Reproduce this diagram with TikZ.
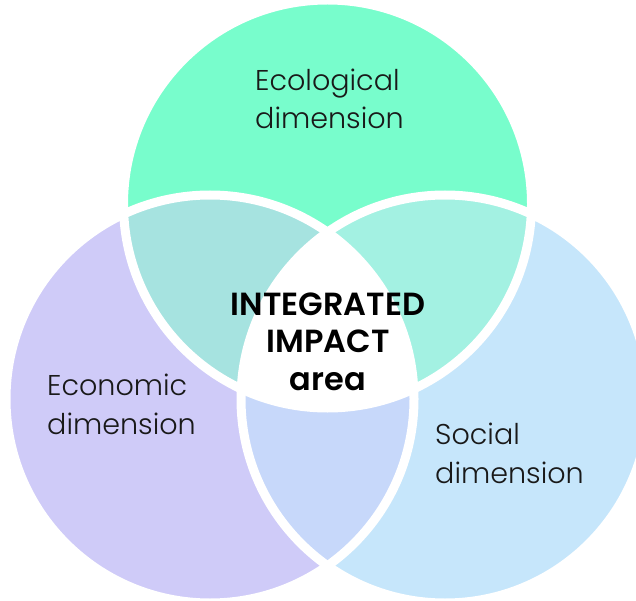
\documentclass[tikz,border=0pt]{standalone}
\usepackage{fontspec}
\setmainfont{Poppins}
\newfontfamily\lightf{Poppins Light}
\newfontfamily\semif{Poppins SemiBold}
\definecolor{ecoTop}{RGB}{120,253,204}
\definecolor{econLeft}{RGB}{207,203,248}
\definecolor{socRight}{RGB}{198,230,251}
\definecolor{topLeft}{RGB}{166,227,224}
\definecolor{topRight}{RGB}{163,241,226}
\definecolor{leftRight}{RGB}{199,216,250}
\tikzset{
  lbl/.style={inner sep=0pt, align=left, text=black!90,
    font=\lightf\fontsize{28.6}{38.5}\selectfont},
  ctr/.style={inner sep=0pt, align=center, text=black,
    font=\semif\fontsize{32}{37.5}\selectfont},
  ring/.style={draw=white, line width=9pt}
}
\begin{document}
\begin{tikzpicture}[x=1pt,y=-1pt]
\useasboundingbox (0,0) rectangle (636,601);
\clip (0,0) rectangle (636,601);
\fill[white] (0,0) rectangle (636,601);
\def\R{204}
\coordinate (T) at (327.5,204);
\coordinate (L) at (210,399);
\coordinate (Rt) at (445,399);
% base fills
\fill[ecoTop] (T) circle[radius=\R];
\fill[econLeft] (L) circle[radius=\R];
\fill[socRight] (Rt) circle[radius=\R];
% pairwise intersections
\begin{scope}
  \clip (T) circle[radius=\R];
  \fill[topLeft] (L) circle[radius=\R];
\end{scope}
\begin{scope}
  \clip (T) circle[radius=\R];
  \fill[topRight] (Rt) circle[radius=\R];
\end{scope}
\begin{scope}
  \clip (L) circle[radius=\R];
  \fill[leftRight] (Rt) circle[radius=\R];
\end{scope}
\begin{scope}
  \clip (T) circle[radius=\R];
  \clip (L) circle[radius=\R];
  \fill[white] (Rt) circle[radius=\R];
\end{scope}
% white rings
\draw[ring] (T) circle[radius=\R];
\draw[ring] (L) circle[radius=\R];
\draw[ring] (Rt) circle[radius=\R];
% labels
\node[lbl, anchor=base west] (eco) at (255,129) {Ecological\\dimension};
\node[lbl, anchor=base west] (econ) at (47,434) {Economic\\dimension};
\node[lbl, anchor=base west] (soc) at (435,483) {Social\\dimension};
\node[ctr, anchor=base] (mid) at (328,390) {INTEGRATED\\IMPACT\\area};
\end{tikzpicture}
\end{document}
